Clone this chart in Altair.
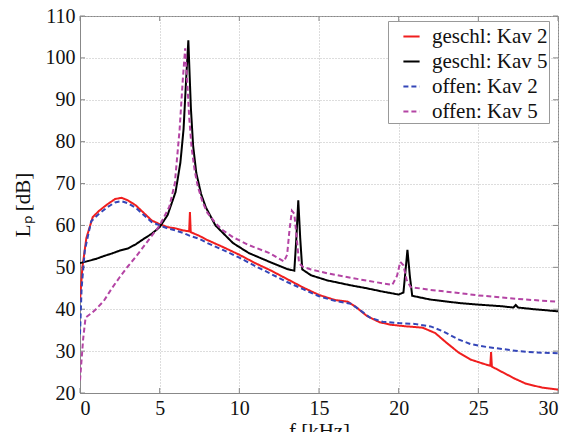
import altair as alt
import pandas as pd

series_names = ["geschl: Kav 2", "geschl: Kav 5", "offen: Kav 2", "offen: Kav 5"]
series_colors = ["#f01e1e", "#000000", "#3446b8", "#b444a4"]
series_dash = [[1, 0], [1, 0], [5, 3], [5, 3]]

# geschl: Kav 2 (red)
g2_f = [0, 0.15, 0.4, 0.8, 1.2, 1.7, 2.2, 2.6, 3.0, 3.5, 4.0, 4.5, 5.0, 5.5, 6.0, 6.5,
        6.85, 6.9, 6.95, 7.5, 8.0, 9.0, 10, 11, 12, 13, 14, 15, 16, 16.8, 17.3, 18.0,
        18.8, 19.5, 20.5, 21.5, 22.3, 23.0, 23.75, 24.5, 25.3, 25.75, 25.8, 25.85,
        26.5, 27.3, 28, 29, 30]
g2_L = [42, 50, 57, 62, 63.5, 65, 66.3, 66.6, 66, 64.8, 63, 61.2, 60.3, 59.6, 59.3, 58.8,
        58.6, 63.2, 58.4, 57.5, 56.5, 54.8, 53, 51, 49.2, 47.2, 45.2, 43.4, 42.2, 41.8, 40.6, 38.4,
        36.9, 36.3, 35.9, 35.6, 34.3, 32, 29.7, 28, 27, 26.5, 29.8, 26.3,
        25, 23.4, 22.2, 21.3, 20.8]

# geschl: Kav 5 (black)
g5_f = [0, 0.5, 1, 1.5, 2, 2.5, 3, 3.5, 4, 4.5, 5, 5.5, 6.0, 6.3, 6.5, 6.65, 6.8,
        6.88, 6.96, 7.1, 7.3, 7.6, 7.9, 8.5, 9.6, 10.6, 11.9, 13.0, 13.45, 13.58, 13.7,
        13.82, 13.95, 14.5, 15.5, 17, 18, 19, 20, 20.3, 20.45, 20.55, 20.7, 20.85,
        22, 23.75, 25, 26.5, 27.2, 27.35, 27.5, 28.5, 30]
g5_L = [51, 51.5, 52, 52.7, 53.3, 54, 54.5, 55.5, 56.8, 58, 59.6, 62.5, 68, 75, 83, 94, 104.2,
        96, 88, 79, 72.5, 67.5, 64.3, 60, 55.8, 53.4, 51.3, 49.6, 49.2, 57, 66,
        57, 49.5, 48.1, 46.9, 45.7, 45, 44.2, 43.5, 44, 50, 54.2, 48, 43.2,
        42.3, 41.5, 41.1, 40.7, 40.4, 41, 40.4, 40, 39.5]

# offen: Kav 2 (blue)
o2_f = [0, 0.1, 0.3, 0.7, 1.2, 1.7, 2.2, 2.6, 3.0, 3.5, 4.0, 4.5, 5.0, 5.5, 6.0, 6.5,
        6.9, 7.5, 8, 9, 10, 11, 12, 13, 14, 15, 16, 17, 17.5, 18.2, 19, 20, 21, 22,
        22.8, 23.75, 24.5, 25.5, 26.5, 27.5, 28.5, 30]
o2_L = [34, 45, 54, 61, 62.8, 64.3, 65.5, 65.8, 65.3, 64.2, 62.5, 60.8, 60, 59.3, 58.8, 58.2,
        57.5, 56.8, 55.8, 54.1, 52.3, 50.3, 48.4, 46.5, 44.8, 43.1, 42, 41.3, 40, 38, 37, 36.7, 36.5, 35.9,
        34.7, 32.8, 31.7, 31, 30.5, 30, 29.7, 29.5]

# offen: Kav 5 (magenta)
o5_f = [0, 0.1, 0.2, 0.35, 0.7, 1, 1.5, 2, 2.5, 3, 3.5, 4, 4.5, 5, 5.6, 5.95, 6.25,
        6.45, 6.6, 6.75, 6.85, 7.0, 7.2, 7.4, 7.7, 8.0, 8.5, 8.9, 9.6, 10.6, 11.9,
        12.8, 13.0, 13.15, 13.3, 13.45, 13.6, 13.75, 13.95, 14.5, 15.5, 17, 18.5,
        19.6, 19.9, 20.1, 20.3, 20.5, 20.75, 22, 23.75, 25, 26.5, 28, 30]
o5_L = [23, 28, 33, 38, 39, 40, 42, 45, 47.7, 50.2, 52.5, 55, 57.5, 60, 64.4, 70, 82.8,
        94.7, 102.3, 93, 86, 78.7, 73, 69.2, 65.5, 63, 60.6, 59, 57.2, 55.3, 53.4,
        51.4, 53, 59, 63.5, 62.8, 57, 51, 50.2, 49.5, 48.6, 47.5, 46.5,
        45.8, 48, 51.3, 50.5, 47, 45.3, 44.6, 43.9, 43.3, 42.8, 42.3, 41.8]

x_ticks = [0, 5, 10, 15, 20, 25, 30]
y_ticks = [20, 30, 40, 50, 60, 70, 80, 90, 100, 110]

rows = []
for name, fs, Ls in zip(series_names, [g2_f, g5_f, o2_f, o5_f], [g2_L, g5_L, o2_L, o5_L]):
    for i, (f, L) in enumerate(zip(fs, Ls)):
        rows.append({"f": f, "L": L, "series": name, "order": i})
df = pd.DataFrame(rows)

font = "Liberation Serif"
xs = alt.Scale(domain=[0, 30], nice=False)
ys = alt.Scale(domain=[20, 110], nice=False)

lines = alt.Chart(df).mark_line(strokeWidth=2, clip=True).encode(
    x=alt.X("f:Q", scale=xs, axis=alt.Axis(values=x_ticks, title="f [kHz]", format="d")),
    y=alt.Y("L:Q", scale=ys, axis=alt.Axis(values=y_ticks, title="Lₚ [dB]", format="d")),
    color=alt.Color("series:N", scale=alt.Scale(domain=series_names, range=series_colors),
                    legend=alt.Legend(title=None, orient="none", legendX=308, legendY=5,
                                      symbolType="M-0.6,0H0.6", symbolSize=729, symbolStrokeWidth=2,
                                      labelFont=font, labelFontSize=21, labelColor="#111",
                                      rowPadding=0, padding=1, strokeColor="#999",
                                      fillColor="white", labelLimit=300, symbolOffset=8,
                                      labelOffset=6)),
    strokeDash=alt.StrokeDash("series:N", scale=alt.Scale(domain=series_names, range=series_dash),
                              legend=None),
    order="order:Q",
)

# inward tick marks on all four sides of the frame
xt = pd.DataFrame({"f": x_ticks})
yt = pd.DataFrame({"L": y_ticks})
tick_style = dict(color="#888", strokeWidth=1)
bottom_ticks = alt.Chart(xt).mark_rule(**tick_style).encode(
    x=alt.X("f:Q", scale=xs), y=alt.value(377), y2=alt.value(372))
top_ticks = alt.Chart(xt).mark_rule(**tick_style).encode(
    x=alt.X("f:Q", scale=xs), y=alt.value(0), y2=alt.value(5))
left_ticks = alt.Chart(yt).mark_rule(**tick_style).encode(
    y=alt.Y("L:Q", scale=ys), x=alt.value(0), x2=alt.value(5))
right_ticks = alt.Chart(yt).mark_rule(**tick_style).encode(
    y=alt.Y("L:Q", scale=ys), x=alt.value(478), x2=alt.value(473))

chart = alt.layer(bottom_ticks, top_ticks, left_ticks, right_ticks, lines).properties(
    width=478, height=377,
    padding={"left": 72, "top": 8, "right": 4, "bottom": 39},
    autosize=alt.AutoSizeParams(type="none"),
).configure(
    font=font
).configure_view(
    stroke="#888", strokeWidth=1
).configure_axis(
    labelFont=font, labelFontSize=20, labelColor="#111",
    titleFont=font, titleFontSize=21, titleColor="#111", titleFontWeight="normal",
    grid=True, gridDash=[1, 2], gridColor="#bbb",
    domainColor="#888", tickColor="#888", tickSize=0, labelPadding=5,
).configure_axisX(
    titlePadding=2
).configure_axisY(
    titlePadding=12
)

chart.save("out.html", embed_options={"renderer": "svg", "actions": False})
